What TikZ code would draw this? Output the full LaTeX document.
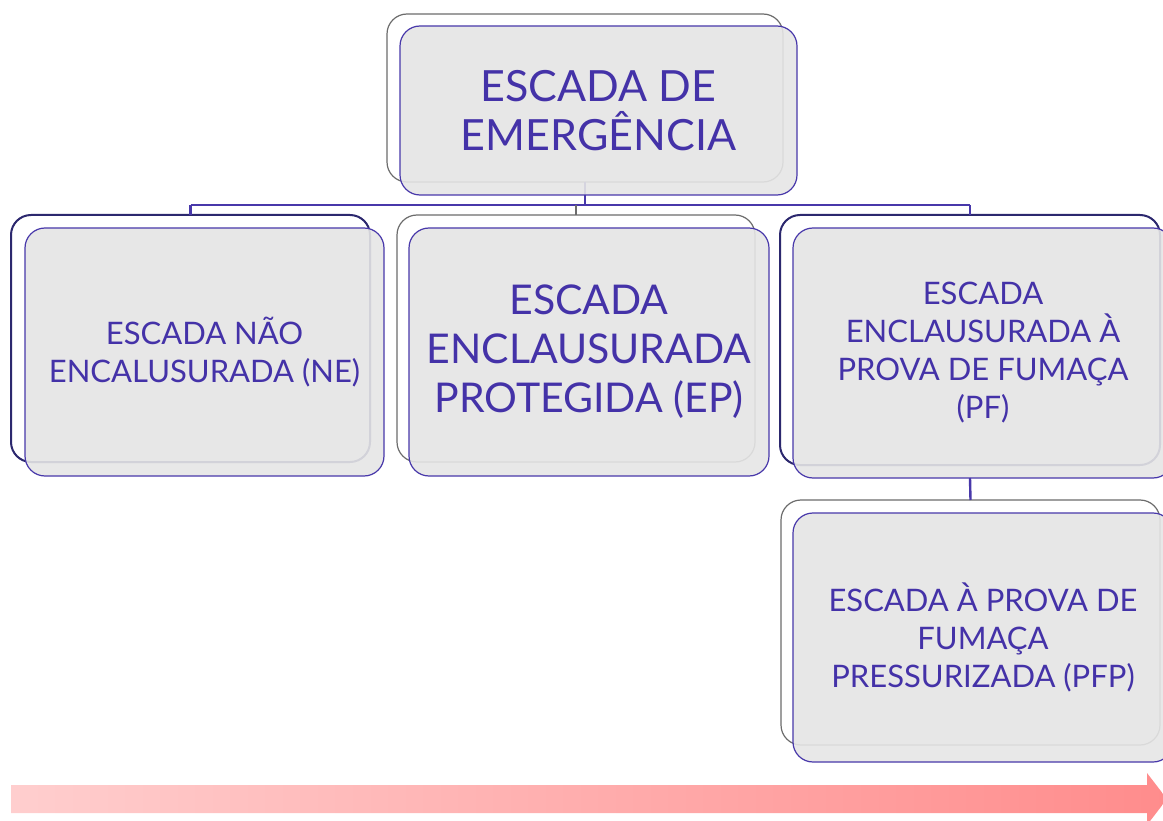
\documentclass[tikz,border=0pt]{standalone}
\usepackage{fontspec}
\setmainfont{Lato}
\definecolor{txtpurple}{RGB}{68,50,168}
\definecolor{linepurple}{RGB}{72,56,170}
\definecolor{darkedge}{RGB}{44,40,110}
\definecolor{boxgray}{RGB}{229,229,229}
\definecolor{pinkL}{RGB}{255,206,206}
\definecolor{pinkR}{RGB}{255,140,140}
\tikzset{
  backbox/.style={draw=gray!85!black, line width=1.2pt, fill=white, rounded corners=20pt, minimum width=#1, inner sep=0pt, outer sep=0pt},
  backdark/.style={draw=darkedge, line width=2pt, fill=white, rounded corners=20pt, minimum width=#1, inner sep=0pt, outer sep=0pt},
  frontbox/.style={draw=linepurple, line width=1.2pt, fill=boxgray, fill opacity=0.9, text opacity=1, rounded corners=20pt, minimum width=#1, inner sep=0pt, outer sep=0pt, text=txtpurple, align=center},
  conn/.style={draw=linepurple, line width=2.4pt},
  conngray/.style={draw=gray!85!black, line width=1.4pt},
  fsmall/.style={font=\fontsize{31}{38}\selectfont},
  fmid/.style={font=\fontsize{41}{49}\selectfont},
  ftop/.style={font=\fontsize{43}{49}\selectfont},
}
\begin{document}
\begin{tikzpicture}[x=1pt,y=-1pt]
\useasboundingbox (0,0) rectangle (1163,821);
% arrow
\shade[left color=pinkL, right color=pinkR] (11,785) -- (1147,785) -- (1147,773) -- (1167,799) -- (1147,825) -- (1147,813) -- (11,813) -- cycle;
% back boxes
\node[backbox=396pt, minimum height=168pt] (topback) at (585,98) {};
\node[backdark=359pt, minimum height=247pt] (lback) at (190.5,338.5) {};
\node[backbox=358pt, minimum height=247pt] (mback) at (576,338.5) {};
\node[backdark=380pt, minimum height=250pt] (rback) at (970,340) {};
\node[backbox=379pt, minimum height=245pt] (pback) at (970.5,622.5) {};
% connectors
\coordinate (bus) at (0,205);
\draw[conn] (topback.south) -- (topback.south |- bus);
\draw[conn] (lback.north |- bus) -- (rback.north |- bus);
\draw[conn] (lback.north |- bus) -- (lback.north);
\draw[conn] (rback.north |- bus) -- (rback.north);
\draw[conngray] (mback.north |- bus) -- (mback.north);
% front boxes
\node[frontbox=397pt, minimum height=169pt, ftop] (topfront) at (598.5,110.5) {ESCADA DE\\EMERGÊNCIA};
\node[frontbox=359pt, minimum height=248pt, fsmall] (lfront) at (204.5,352) {ESCADA NÃO\\ENCALUSURADA (NE)};
\node[frontbox=360pt, minimum height=248pt, fmid] (mfront) at (589,352) {ESCADA\\ENCLAUSURADA\\PROTEGIDA (EP)};
\node[frontbox=380pt, minimum height=250pt, fsmall] (rfront) at (983,353) {ESCADA\\ENCLAUSURADA À\\PROVA DE FUMAÇA\\(PF)};
\draw[conn] (rback.center |- rfront.south) -- (pback.north);
\node[frontbox=380pt, minimum height=249pt, fsmall] (pfront) at (983,637.5) {ESCADA À PROVA DE\\FUMAÇA\\PRESSURIZADA (PFP)};
\end{tikzpicture}
\end{document}
